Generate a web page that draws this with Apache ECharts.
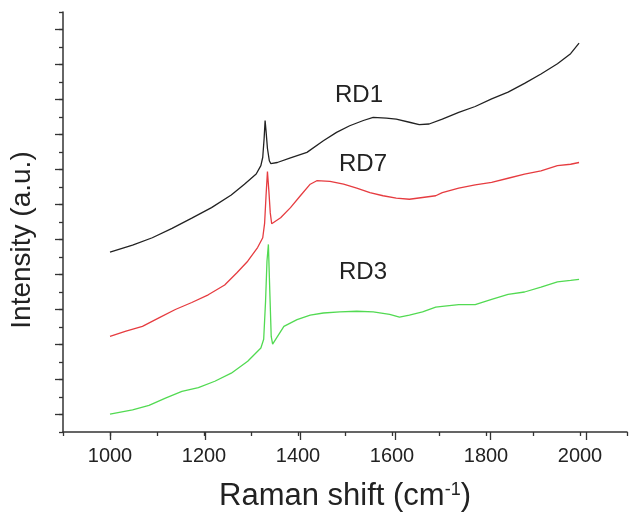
<!DOCTYPE html>
<html>
<head>
<meta charset="utf-8">
<script src="https://cdn.jsdelivr.net/npm/echarts@6/dist/echarts.min.js"></script>
<style>
  html, body { margin: 0; padding: 0; background: #fff; }
  #chart { width: 630px; height: 517px; }
</style>
</head>
<body>
<div id="chart"></div>
<script>
// RD1 (black)
const rd1Shift = [1000, 1048, 1090, 1132, 1174, 1216, 1258, 1286, 1311, 1321, 1325, 1328, 1330, 1332, 1335, 1339, 1342,
  1356, 1384, 1419, 1454, 1482, 1510, 1539, 1560, 1588, 1609, 1637, 1658, 1679, 1707, 1742, 1777, 1812, 1847, 1882,
  1917, 1952, 1980, 1998];
const rd1Intensity = [4.64, 4.84, 5.05, 5.32, 5.61, 5.91, 6.27, 6.58, 6.87, 7.11, 7.35, 7.9, 8.4, 8.1, 7.6, 7.25, 7.17,
  7.2, 7.33, 7.49, 7.82, 8.06, 8.25, 8.4, 8.49, 8.47, 8.44, 8.35, 8.28, 8.3, 8.44, 8.63, 8.8, 9.02, 9.21, 9.46,
  9.73, 10.02, 10.31, 10.61];

// RD7 (red)
const rd7Shift = [1000, 1034, 1069, 1104, 1139, 1174, 1209, 1244, 1270, 1293, 1314, 1325, 1329, 1332, 1335, 1338, 1341,
  1344, 1363, 1384, 1405, 1426, 1440, 1468, 1497, 1525, 1553, 1581, 1609, 1637, 1665, 1693, 1707, 1742, 1777, 1812,
  1847, 1882, 1917, 1952, 1980, 1998];
const rd7Intensity = [2.23, 2.38, 2.52, 2.76, 3.0, 3.2, 3.42, 3.7, 4.05, 4.38, 4.77, 5.05, 5.47, 6.25, 6.94, 6.39, 5.76,
  5.45, 5.62, 5.91, 6.25, 6.58, 6.68, 6.66, 6.58, 6.47, 6.34, 6.25, 6.18, 6.15, 6.2, 6.25, 6.34, 6.47, 6.56, 6.63,
  6.75, 6.87, 6.96, 7.11, 7.15, 7.2];

// RD3 (green)
const rd3Shift = [1000, 1048, 1083, 1118, 1153, 1188, 1223, 1258, 1293, 1321, 1327, 1331, 1334, 1337, 1340, 1343, 1346,
  1370, 1398, 1426, 1454, 1489, 1525, 1560, 1595, 1616, 1637, 1665, 1693, 1707, 1742, 1777, 1812, 1847, 1882, 1917,
  1952, 1980, 1998];
const rd3Intensity = [0.01, 0.13, 0.26, 0.47, 0.66, 0.77, 0.95, 1.18, 1.52, 1.9, 2.15, 3.24, 4.38, 4.86, 3.52, 2.23, 2.01,
  2.52, 2.71, 2.84, 2.9, 2.93, 2.95, 2.93, 2.86, 2.78, 2.84, 2.93, 3.07, 3.09, 3.14, 3.14, 3.29, 3.43, 3.5, 3.64,
  3.79, 3.83, 3.86];

const xLabels = [1000, 1200, 1400, 1600, 1800, 2000];

const zip = (xs, ys) => xs.map((x, i) => [x, ys[i]]);

const font = 'Liberation Sans, Arial, sans-serif';
const axisColor = '#333';

let myCharts = echarts.init(document.getElementById('chart'));

let option = {
  animation: false,
  grid: [
    // data grid, minor ticks
    { left: 63, top: 12, width: 570.4, height: 420 },
    // major y ticks
    { left: 63, top: 29.5, width: 570.4, height: 385 },
    // major x ticks
    { left: 110.5, top: 12, width: 475.3, height: 420 }
  ],
  xAxis: [
    {
      gridIndex: 0, type: 'value', min: 900, max: 2100, interval: 100,
      axisLine: { onZero: false, lineStyle: { color: axisColor, width: 1.5 } },
      axisTick: { length: 4, lineStyle: { color: axisColor, width: 1.3 } },
      splitLine: { show: false },
      axisLabel: {
        margin: 14, color: '#222', fontSize: 20, fontFamily: font,
        formatter: v => (xLabels.indexOf(v) >= 0 ? String(v) : '')
      },
      name: 'Raman shift (cm{sup|-1})',
      nameLocation: 'middle',
      nameGap: 49,
      nameTextStyle: {
        color: '#222', fontSize: 31, fontFamily: font,
        rich: { sup: { fontSize: 18, fontFamily: font, color: '#222', verticalAlign: 'top', lineHeight: 30 } }
      }
    },
    {
      gridIndex: 1, type: 'value', min: 900, max: 2100, show: false
    },
    {
      gridIndex: 2, type: 'value', min: 1000, max: 2000, interval: 200,
      axisLine: { show: false, onZero: false },
      axisTick: { length: 8, lineStyle: { color: axisColor, width: 1.3 } },
      axisLabel: { show: false },
      splitLine: { show: false }
    }
  ],
  yAxis: [
    {
      gridIndex: 0, type: 'value', min: -0.5, max: 11.5, interval: 0.5,
      axisLine: { show: true, onZero: false, lineStyle: { color: axisColor, width: 1.5 } },
      axisTick: { show: true, length: 4, lineStyle: { color: axisColor, width: 1.3 } },
      axisLabel: { show: false },
      splitLine: { show: false },
      name: 'Intensity (a.u.)',
      nameLocation: 'middle',
      nameGap: 27,
      nameTextStyle: { color: '#222', fontSize: 28, fontFamily: font, padding: [0, 36, 0, 0] }
    },
    {
      gridIndex: 1, type: 'value', min: 0, max: 11, interval: 1,
      axisLine: { show: false, onZero: false },
      axisTick: { show: true, length: 8, lineStyle: { color: axisColor, width: 1.3 } },
      axisLabel: { show: false },
      splitLine: { show: false }
    },
    {
      gridIndex: 2, type: 'value', show: false
    }
  ],
  graphic: [
    { type: 'text', left: 335, top: 83, style: { text: 'RD1', fontSize: 24, fontFamily: font, fill: '#222' } },
    { type: 'text', left: 339, top: 152, style: { text: 'RD7', fontSize: 24, fontFamily: font, fill: '#222' } },
    { type: 'text', left: 339, top: 260, style: { text: 'RD3', fontSize: 24, fontFamily: font, fill: '#222' } }
  ],
  series: [
    {
      name: 'RD1', type: 'line', xAxisIndex: 0, yAxisIndex: 0, showSymbol: false,
      lineStyle: { color: '#222', width: 1.3 }, data: zip(rd1Shift, rd1Intensity)
    },
    {
      name: 'RD7', type: 'line', xAxisIndex: 0, yAxisIndex: 0, showSymbol: false,
      lineStyle: { color: '#e63c40', width: 1.3 }, data: zip(rd7Shift, rd7Intensity)
    },
    {
      name: 'RD3', type: 'line', xAxisIndex: 0, yAxisIndex: 0, showSymbol: false,
      lineStyle: { color: '#52da52', width: 1.3 }, data: zip(rd3Shift, rd3Intensity)
    }
  ]
};

myCharts.setOption(option);
</script>
</body>
</html>
